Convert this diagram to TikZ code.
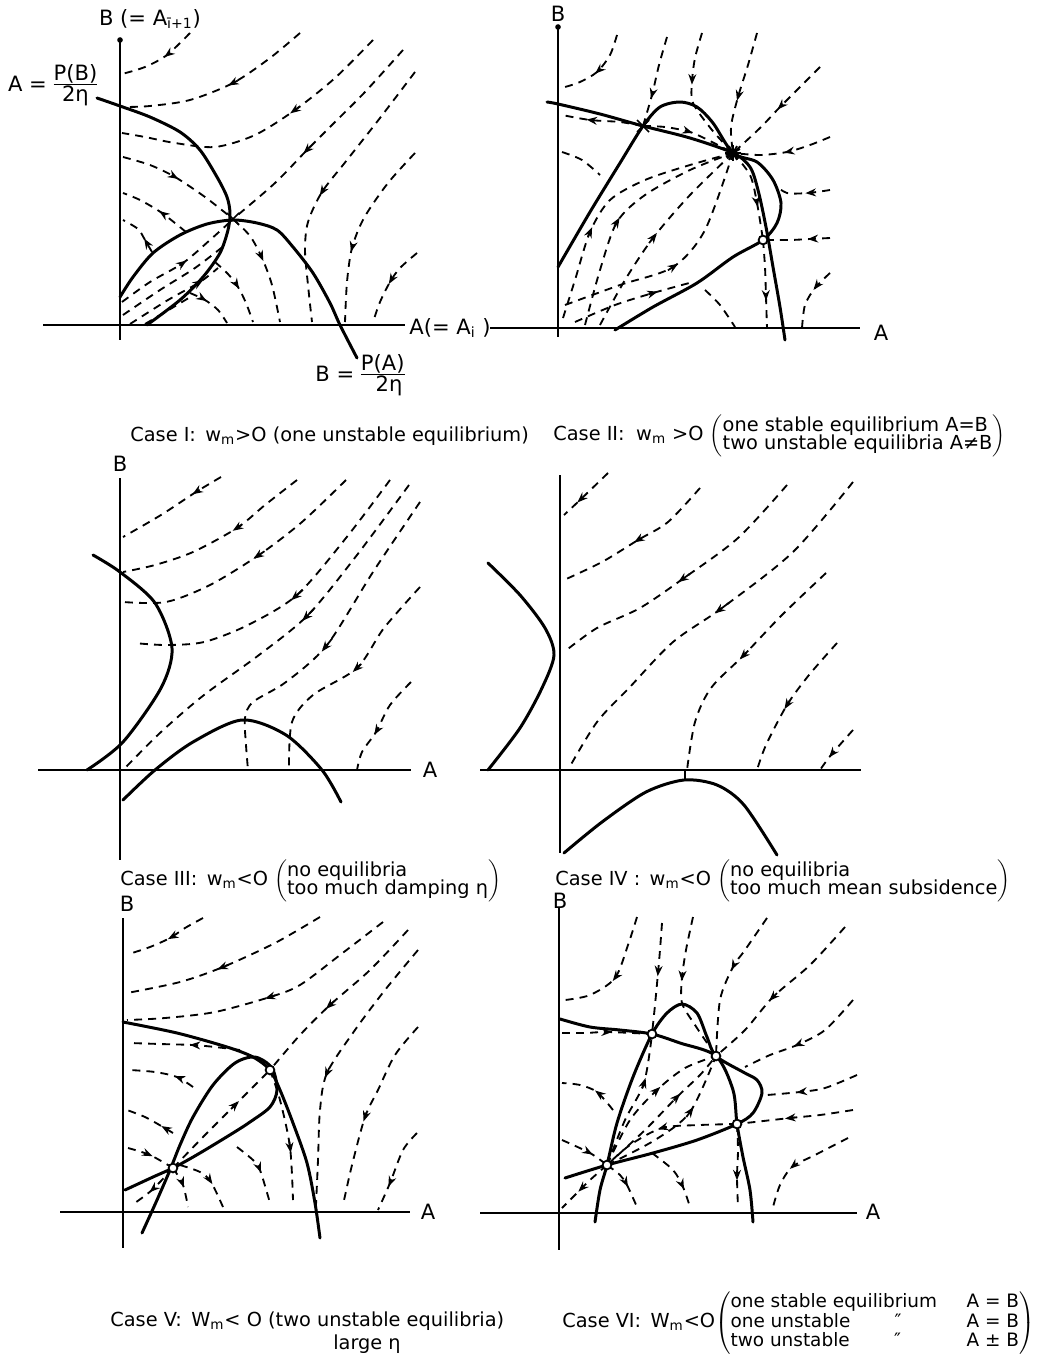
\documentclass[tikz,border=0pt]{standalone}
\usepackage{fontspec}
\setmainfont{DejaVu Sans}
\usetikzlibrary{arrows.meta, calc}

\tikzset{
  axisline/.style={line width=1.4pt},
  curve/.style={line width=1.7pt, line cap=round},
  trace/.style={line width=1.05pt, dash pattern=on 4.5pt off 3.5pt},
  flowhead/.style={line width=1pt, -{Stealth[length=6pt, width=4.5pt]}},
  eqpt/.style={circle, draw, fill=white, line width=1pt, inner sep=0pt, minimum size=5pt},
  lbl/.style={font=\fontsize{12}{14}\selectfont, inner sep=1pt},
  caption/.style={font=\fontsize{11}{13}\selectfont, anchor=west, inner sep=0pt}
}
% arrow head on a trajectory: previous point, point, next point
\newcommand{\flowtip}[3]{\draw[flowhead] ($#2-0.06*($#3-#1$)$) -- ($#2+0.06*($#3-#1$)$);}

\begin{document}
\begin{tikzpicture}[x=0.02cm, y=-0.02cm]
\useasboundingbox (0,0) rectangle (1045,1359);

% ---------------- Case I ----------------
\draw[axisline] (120,40) -- (120,340);
\fill (120,40) circle (1.6pt);
\draw[axisline] (43,325) -- (405,325);
\node[lbl] (bI) at (150,19) {B (= A\textsubscript{ī+1})};
\node[lbl] (aI) at (450,328) {A(= A\textsubscript{i} )};
\node[lbl, anchor=west] (pbI) at (6,86) {A = \begin{tabular}{@{}c@{}}P(B)\\[-2pt]\hline 2η\end{tabular}};
\node[lbl] (paI) at (360,376) {B = \begin{tabular}{@{}c@{}}P(A)\\[-2pt]\hline \hspace{0.6em}2η\end{tabular}};

\draw[curve] plot[smooth] coordinates {(97,98) (120,106) (150,117) (180,132) (200,150) (217,177) (227,197) (230,213) (228,230) (220,253) (203,277) (180,300) (147,325)};
\draw[curve] plot[smooth] coordinates {(120,297) (133,277) (153,253) (180,235) (207,224) (233,220) (257,223) (277,230) (293,247) (313,273) (330,303) (340,325) (357,358)};

\draw[trace] plot[smooth] coordinates {(190,33) (167,55) (145,67) (122,74)};
\flowtip{(190,33)}{(167,55)}{(145,67)}
\draw[trace] plot[smooth] coordinates {(300,33) (270,58) (233,83) (190,100) (150,106) (125,107)};
\flowtip{(270,58)}{(233,83)}{(190,100)}
\draw[trace] plot[smooth] coordinates {(373,40) (335,78) (295,110) (255,135) (215,147) (175,143) (145,137) (122,133)};
\flowtip{(335,78)}{(295,110)}{(255,135)}
\draw[trace] plot[smooth] coordinates {(403,50) (365,92) (335,122) (307,150) (275,183) (233,219)};
\flowtip{(335,122)}{(307,150)}{(275,183)}
\draw[trace] plot[smooth] coordinates {(415,72) (380,118) (347,160) (322,192) (308,222) (305,250) (308,285) (312,322)};
\flowtip{(347,160)}{(322,192)}{(308,222)}
\draw[trace] plot[smooth] coordinates {(415,153) (388,183) (364,218) (352,248) (347,282) (345,322)};
\flowtip{(364,218)}{(352,248)}{(347,282)}
\draw[trace] plot[smooth] coordinates {(417,253) (400,268) (390,282) (380,302) (373,322)};
\flowtip{(400,268)}{(390,282)}{(380,302)}
\draw[trace] plot[smooth] coordinates {(123,157) (150,165) (175,177) (205,197) (233,219)};
\flowtip{(150,165)}{(175,177)}{(205,197)}
\draw[trace] plot[smooth] coordinates {(233,219) (250,236) (262,258) (272,285) (280,322)};
\flowtip{(250,236)}{(262,258)}{(272,285)}
\draw[trace] plot[smooth] coordinates {(215,262) (228,274) (238,287) (246,303) (253,322)};
\flowtip{(228,274)}{(238,287)}{(246,303)}
\draw[trace] plot[smooth] coordinates {(190,293) (205,300) (218,310) (227,323)};
\flowtip{(190,293)}{(205,300)}{(218,310)}
\draw[trace] plot[smooth] coordinates {(186,232) (162,213) (140,200) (123,193)};
\flowtip{(186,232)}{(162,213)}{(140,200)}
\draw[trace] plot[smooth] coordinates {(152,252) (145,240) (138,229) (123,220)};
\flowtip{(152,252)}{(145,240)}{(138,229)}
% inside the loop
\draw[trace] plot[smooth] coordinates {(122,302) (150,282) (183,263) (210,240) (230,222)};
\flowtip{(150,282)}{(183,263)}{(210,240)}
\draw[trace] plot[smooth] coordinates {(123,315) (160,290) (195,268) (225,245)};
\draw[trace] plot[smooth] coordinates {(130,324) (168,300) (200,282) (218,268)};
\flowtip{(168,300)}{(200,282)}{(218,268)}
\draw[trace] plot[smooth] coordinates {(145,324) (172,308) (192,296)};
\draw[line width=1pt] (227,213) -- (239,225) (227,225) -- (239,213);

\node[caption] (capI) at (130,436) {Case I:\, w\textsubscript{m}>O (one unstable equilibrium)};

% ---------------- Case II ----------------
\draw[axisline] (558,27) -- (558,337);
\fill (558,27) circle (1.6pt);
\draw[axisline] (490,328) -- (860,328);
\node[lbl] (bII) at (558,14) {B};
\node[lbl] (aII) at (881,333) {A};

\draw[curve] plot[smooth] coordinates {(547,102) (558,104) (600,114) (643,126) (690,138) (733,153) (750,167) (758,190) (766,227) (773,267) (780,307) (785,340)};
\draw[curve] plot[smooth] coordinates {(558,267) (590,212) (620,163) (643,126) (660,107) (680,102) (697,107) (713,123) (733,153) (757,162) (773,180) (781,203) (777,223) (763,240) (733,257) (697,283) (653,307) (615,330)};

\draw[trace] plot[smooth] coordinates {(617,35) (610,55) (597,72) (580,82) (565,87)};
\flowtip{(610,55)}{(597,72)}{(580,82)}
\draw[trace] plot[smooth] coordinates {(667,37) (659,65) (652,95) (643,126)};
\flowtip{(659,65)}{(652,95)}{(643,126)}
\draw[trace] plot[smooth] coordinates {(702,33) (695,58) (692,82) (693,103) (712,130) (733,153)};
\flowtip{(695,58)}{(692,82)}{(693,103)}
\draw[trace] plot[smooth] coordinates {(757,33) (748,65) (738,97) (731,127) (733,153)};
\flowtip{(748,65)}{(738,97)}{(731,127)}
\draw[trace] plot[smooth] coordinates {(820,67) (800,87) (780,107) (760,128) (733,153)};
\flowtip{(800,87)}{(780,107)}{(760,128)}
\draw[trace] plot[smooth] coordinates {(830,137) (810,145) (787,152) (760,155) (733,153)};
\flowtip{(810,145)}{(787,152)}{(760,155)}
\draw[trace] plot[smooth] coordinates {(830,190) (808,193) (787,193) (775,185)};
\flowtip{(830,190)}{(808,193)}{(787,193)}
\draw[trace] plot[smooth] coordinates {(830,238) (810,239) (790,240) (763,240)};
\flowtip{(830,238)}{(810,239)}{(790,240)}
\draw[trace] plot[smooth] coordinates {(830,273) (815,288) (805,305) (802,328)};
\flowtip{(830,273)}{(815,288)}{(805,305)}
\draw[trace] plot[smooth] coordinates {(763,240) (765,267) (766,297) (767,328)};
\flowtip{(765,267)}{(766,297)}{(767,328)}
\draw[trace] plot[smooth] coordinates {(705,290) (720,305) (735,327)};
\draw[trace] plot[smooth] coordinates {(643,126) (620,122) (590,120) (562,115)};
\flowtip{(620,122)}{(590,120)}{(562,115)}
\draw[trace] plot[smooth] coordinates {(643,126) (665,127) (690,132) (712,142) (733,153)};
\flowtip{(665,127)}{(690,132)}{(712,142)}
\draw[trace] plot[smooth] coordinates {(562,152) (582,160) (600,175)};
\draw[trace] plot[smooth] coordinates {(733,153) (750,175) (757,203) (763,240)};
\flowtip{(750,175)}{(757,203)}{(763,240)}
% fan into the stable point
\draw[trace] plot[smooth] coordinates {(563,318) (575,280) (590,232) (610,200) (645,180) (690,165) (733,153)};
\flowtip{(575,280)}{(590,232)}{(610,200)}
\draw[trace] plot[smooth] coordinates {(585,325) (600,270) (617,222) (645,195) (690,170) (733,153)};
\flowtip{(600,270)}{(617,222)}{(645,195)}
\draw[trace] plot[smooth] coordinates {(600,325) (625,280) (653,238) (690,195) (733,153)};
\flowtip{(625,280)}{(653,238)}{(690,195)}
\draw[trace] plot[smooth] coordinates {(565,305) (620,285) (673,267) (705,230) (733,153)};
\flowtip{(620,285)}{(673,267)}{(705,230)}
\draw[trace] plot[smooth] coordinates {(575,322) (615,305) (653,293) (693,282)};
\flowtip{(615,305)}{(653,293)}{(693,282)}
\foreach \a in {0,30,...,150}
  \draw[line width=1pt] (733,153) ++(\a:8) -- ++(\a+180:16);
\draw[line width=1pt] (637,120) -- (649,132) (637,132) -- (649,120);
\node[eqpt] (eqII) at (763,240) {};

\node[caption] (capII) at (553,436) {Case II:\; w\textsubscript{m} >O \(\left(\begin{tabular}{@{}l@{}}one stable equilibrium A=B\\[-3pt] two unstable equilibria A≠B\end{tabular}\right)\)};

% ---------------- Case III ----------------
\draw[axisline] (120,478) -- (120,860);
\draw[axisline] (38,770) -- (411,770);
\node[lbl] (bIII) at (120,464) {B};
\node[lbl] (aIII) at (430,770) {A};

\draw[curve] plot[smooth] coordinates {(93,555) (120,572) (155,603) (172,648) (161,688) (123,742) (87,770)};
\draw[curve] plot[smooth] coordinates {(123,800) (155,770) (193,742) (242,720) (286,735) (322,770) (341,802)};

\draw[trace] plot[smooth] coordinates {(221,477) (196,492) (161,515) (123,537)};
\flowtip{(221,477)}{(196,492)}{(161,515)}
\draw[trace] plot[smooth] coordinates {(297,480) (265,505) (237,528) (193,552) (155,565) (123,572)};
\flowtip{(265,505)}{(237,528)}{(193,552)}
\draw[trace] plot[smooth] coordinates {(346,480) (302,522) (259,555) (210,585) (166,602) (123,602)};
\flowtip{(302,522)}{(259,555)}{(210,585)}
\draw[trace] plot[smooth] coordinates {(390,480) (346,538) (297,595) (248,625) (204,642) (166,645) (134,643)};
\flowtip{(346,538)}{(297,595)}{(248,625)}
\draw[trace] plot[smooth] coordinates {(409,485) (357,555) (308,615) (259,655) (204,695) (161,732) (125,768)};
\flowtip{(357,555)}{(308,615)}{(259,655)}
\draw[trace] plot[smooth] coordinates {(420,502) (373,572) (327,645) (286,682) (253,702) (245,718) (246,745) (248,770)};
\flowtip{(373,572)}{(327,645)}{(286,682)}
\draw[trace] plot[smooth] coordinates {(420,587) (384,628) (357,668) (313,695) (292,722) (289,768)};
\flowtip{(384,628)}{(357,668)}{(313,695)}
\draw[trace] plot[smooth] coordinates {(411,682) (390,705) (376,732) (362,752) (357,770)};
\flowtip{(390,705)}{(376,732)}{(362,752)}

\node[caption] (capIII) at (120,881) {Case III:\, w\textsubscript{m}<O \(\left(\begin{tabular}{@{}l@{}}no equilibria\\[-3pt] too much damping η\end{tabular}\right)\)};

% ---------------- Case IV ----------------
\draw[axisline] (560,475) -- (560,853);
\draw[axisline] (480,770) -- (861,770);

\draw[curve] plot[smooth] coordinates {(488,563) (520,595) (545,628) (554,655) (542,688) (520,728) (488,770)};
\draw[curve] plot[smooth] coordinates {(564,853) (602,822) (646,792) (684,780) (717,785) (744,805) (777,855)};
\draw[line width=1pt] (685,770) -- (685,780);

\draw[trace] plot[smooth] coordinates {(608,473) (580,500) (564,515)};
\flowtip{(608,473)}{(580,500)}{(564,515)}
\draw[trace] plot[smooth] coordinates {(700,488) (668,522) (638,540) (602,562) (564,580)};
\flowtip{(668,522)}{(638,540)}{(602,562)}
\draw[trace] plot[smooth] coordinates {(787,485) (738,538) (684,578) (640,608) (597,628) (564,652)};
\flowtip{(738,538)}{(684,578)}{(640,608)}
\draw[trace] plot[smooth] coordinates {(853,482) (793,552) (722,608) (673,642) (629,688) (597,722) (569,768)};
\flowtip{(793,552)}{(722,608)}{(673,642)}
\draw[trace] plot[smooth] coordinates {(826,573) (782,615) (744,655) (711,688) (695,722) (687,770)};
\flowtip{(782,615)}{(744,655)}{(711,688)}
\draw[trace] plot[smooth] coordinates {(837,643) (809,675) (787,705) (766,745) (757,770)};
\flowtip{(809,675)}{(787,705)}{(766,745)}
\draw[trace] plot[smooth] coordinates {(853,730) (831,755) (820,770)};
\flowtip{(853,730)}{(831,755)}{(820,770)}

\node[caption] (capIV) at (555,881) {Case IV :\, w\textsubscript{m}<O \(\left(\begin{tabular}{@{}l@{}}no equilibria\\[-3pt] too much mean subsidence\end{tabular}\right)\)};

% ---------------- Case V ----------------
\draw[axisline] (123,918) -- (123,1248);
\draw[axisline] (60,1212) -- (410,1212);
\node[lbl] (bV) at (127,904) {B};
\node[lbl] (aV) at (428,1212) {A};

\draw[curve] plot[smooth] coordinates {(123,1022) (177,1033) (227,1047) (253,1057) (270,1070) (280,1090) (293,1123) (307,1163) (315,1203) (320,1238)};
\draw[curve] plot[smooth] coordinates {(142,1233) (157,1200) (170,1170) (180,1145) (193,1117) (213,1085) (235,1063) (255,1057) (272,1068) (277,1090) (270,1107) (250,1122) (233,1133) (200,1153) (175,1167) (153,1177) (125,1190)};

\draw[trace] plot[smooth] coordinates {(203,918) (185,928) (170,938) (150,947) (132,953)};
\flowtip{(185,928)}{(170,938)}{(150,947)}
\draw[trace] plot[smooth] coordinates {(320,917) (275,943) (223,967) (180,982) (127,993)};
\flowtip{(275,943)}{(223,967)}{(180,982)}
\draw[trace] plot[smooth] coordinates {(383,922) (340,955) (300,985) (270,997) (215,1012) (165,1018) (127,1020)};
\flowtip{(300,985)}{(270,997)}{(215,1012)}
\draw[trace] plot[smooth] coordinates {(408,930) (370,970) (330,1005) (300,1035) (270,1070)};
\flowtip{(370,970)}{(330,1005)}{(300,1035)}
\draw[trace] plot[smooth] coordinates {(418,950) (385,990) (355,1030) (327,1073) (320,1110) (318,1160) (316,1205)};
\flowtip{(355,1030)}{(327,1073)}{(320,1110)}
\draw[trace] plot[smooth] coordinates {(418,1027) (395,1055) (378,1090) (365,1117) (352,1165) (343,1205)};
\flowtip{(378,1090)}{(365,1117)}{(352,1165)}
\draw[trace] plot[smooth] coordinates {(417,1133) (403,1150) (390,1183) (378,1210)};
\flowtip{(403,1150)}{(390,1183)}{(378,1210)}
\draw[trace] plot[smooth] coordinates {(240,1050) (215,1047) (193,1045) (160,1044) (130,1043)};
\flowtip{(215,1047)}{(193,1045)}{(160,1044)}
\draw[trace] plot[smooth] coordinates {(193,1087) (177,1077) (155,1072) (130,1070)};
\flowtip{(193,1087)}{(177,1077)}{(155,1072)}
\draw[trace] plot[smooth] coordinates {(173,1133) (163,1127) (145,1117) (127,1110)};
\flowtip{(173,1133)}{(163,1127)}{(145,1117)}
\draw[trace] plot[smooth] coordinates {(128,1148) (150,1155) (173,1168)};
\flowtip{(128,1148)}{(150,1155)}{(173,1168)}
\draw[trace] plot[smooth] coordinates {(173,1168) (152,1190) (132,1205)};
\flowtip{(173,1168)}{(152,1190)}{(132,1205)}
\draw[trace] plot[smooth] coordinates {(173,1168) (183,1185) (188,1207)};
\flowtip{(173,1168)}{(183,1185)}{(188,1207)}
\draw[trace] plot[smooth] coordinates {(180,1165) (200,1172) (211,1182) (223,1207)};
\flowtip{(200,1172)}{(211,1182)}{(223,1207)}
\draw[trace] plot[smooth] coordinates {(237,1147) (253,1160) (260,1170) (270,1203)};
\flowtip{(253,1160)}{(260,1170)}{(270,1203)}
\draw[trace] plot[smooth] coordinates {(270,1070) (280,1100) (290,1147) (293,1200)};
\flowtip{(280,1100)}{(290,1147)}{(293,1200)}
\draw[trace] plot[smooth] coordinates {(173,1168) (205,1135) (235,1105) (270,1070)};
\flowtip{(205,1135)}{(235,1105)}{(270,1070)}
\node[eqpt] (eqVa) at (270,1070) {};
\node[eqpt] (eqVb) at (173,1168) {};

\node[caption] (capV) at (110,1321) {Case V:\, W\textsubscript{m}< O (two unstable equilibria)};
\node[caption] (capVb) at (333,1344) {large η};

% ---------------- Case VI ----------------
\draw[axisline] (559,908) -- (559,1250);
\draw[axisline] (480,1213) -- (857,1213);
\node[lbl] (bVI) at (560,901) {B};
\node[lbl] (aVI) at (873,1212) {A};

\draw[curve] plot[smooth] coordinates {(560,1019) (590,1027) (620,1030) (652,1034) (680,1043) (716,1056) (733,1090) (737,1124) (743,1157) (750,1190) (753,1222)};
\draw[curve] plot[smooth] coordinates {(595,1222) (600,1190) (607,1165) (617,1123) (633,1077) (652,1034) (667,1013) (682,1004) (697,1013) (707,1037) (716,1056) (743,1072) (757,1080) (762,1093) (753,1113) (737,1124) (697,1140) (653,1153) (607,1165) (565,1178)};

\draw[trace] plot[smooth] coordinates {(637,917) (628,945) (615,978) (590,995) (565,1000)};
\flowtip{(628,945)}{(615,978)}{(590,995)}
\draw[trace] plot[smooth] coordinates {(662,923) (660,950) (658,973) (655,1005) (652,1034)};
\flowtip{(660,950)}{(658,973)}{(655,1005)}
\draw[trace] plot[smooth] coordinates {(607,1165) (625,1120) (644,1083) (652,1034)};
\flowtip{(625,1120)}{(644,1083)}{(652,1034)}
\draw[trace] plot[smooth] coordinates {(693,917) (686,950) (682,978) (682,1003) (695,1025) (716,1056)};
\flowtip{(686,950)}{(682,978)}{(682,1003)}
\draw[trace] plot[smooth] coordinates {(767,918) (745,950) (733,967) (720,1000) (716,1056)};
\flowtip{(745,950)}{(733,967)}{(720,1000)}
\draw[trace] plot[smooth] coordinates {(845,927) (810,965) (773,997) (745,1030) (716,1056)};
\flowtip{(810,965)}{(773,997)}{(745,1030)}
\draw[trace] plot[smooth] coordinates {(853,1000) (825,1030) (797,1045) (770,1055) (745,1067)};
\flowtip{(825,1030)}{(797,1045)}{(770,1055)}
\draw[trace] plot[smooth] coordinates {(857,1075) (825,1088) (800,1092) (767,1095)};
\flowtip{(825,1088)}{(800,1092)}{(767,1095)}
\draw[trace] plot[smooth] coordinates {(853,1110) (820,1115) (790,1118) (737,1124)};
\flowtip{(820,1115)}{(790,1118)}{(737,1124)}
\draw[trace] plot[smooth] coordinates {(737,1124) (700,1125) (662,1128) (630,1145) (607,1165)};
\flowtip{(700,1125)}{(662,1128)}{(630,1145)}
\draw[trace] plot[smooth] coordinates {(848,1138) (815,1155) (792,1167) (780,1185) (773,1207)};
\flowtip{(815,1155)}{(792,1167)}{(780,1185)}
\draw[trace] plot[smooth] coordinates {(737,1124) (738,1150) (737,1177) (738,1207)};
\flowtip{(738,1150)}{(737,1177)}{(738,1207)}
\draw[trace] plot[smooth] coordinates {(652,1153) (673,1170) (683,1187) (690,1207)};
\flowtip{(673,1170)}{(683,1187)}{(690,1207)}
\draw[trace] plot[smooth] coordinates {(607,1165) (620,1175) (627,1185) (637,1207)};
\flowtip{(620,1175)}{(627,1185)}{(637,1207)}
\draw[trace] plot[smooth] coordinates {(607,1165) (590,1180) (580,1190) (562,1208)};
\flowtip{(590,1180)}{(580,1190)}{(562,1208)}
\draw[trace] plot[smooth] coordinates {(562,1140) (590,1153) (607,1165)};
\flowtip{(562,1140)}{(590,1153)}{(607,1165)}
\draw[trace] plot[smooth] coordinates {(613,1110) (597,1092) (580,1085) (562,1083)};
\flowtip{(613,1110)}{(597,1092)}{(580,1085)}
\draw[trace] plot[smooth] coordinates {(562,1033) (585,1033) (608,1032) (652,1034)};
\flowtip{(585,1033)}{(608,1032)}{(652,1034)}
% fan into the stable point
\draw[trace] plot[smooth] coordinates {(607,1165) (630,1120) (657,1090) (685,1068) (716,1056)};
\flowtip{(630,1120)}{(657,1090)}{(685,1068)}
\draw[trace] plot[smooth] coordinates {(607,1165) (645,1130) (677,1097) (700,1075) (716,1056)};
\flowtip{(645,1130)}{(677,1097)}{(700,1075)}
\draw[trace] plot[smooth] coordinates {(607,1165) (655,1140) (690,1112) (716,1056)};
\flowtip{(655,1140)}{(690,1112)}{(716,1056)}
\node[eqpt] (eqVIa) at (652,1034) {};
\node[eqpt] (eqVIb) at (716,1056) {};
\node[eqpt] (eqVIc) at (737,1124) {};
\node[eqpt] (eqVId) at (607,1165) {};

\node[caption] (capVI) at (562,1323) {Case VI:\, W\textsubscript{m}<O\(\left(\fontsize{10.5}{12}\selectfont\begin{tabular}{@{}l@{\hspace{1.6em}}l@{}}one stable equilibrium & A = B\\[-1pt] one unstable\hspace{2.4em}″ & A = B\\[-1pt] two unstable\hspace{2.4em}″ & A ± B\end{tabular}\right)\)};

\end{tikzpicture}
\end{document}
